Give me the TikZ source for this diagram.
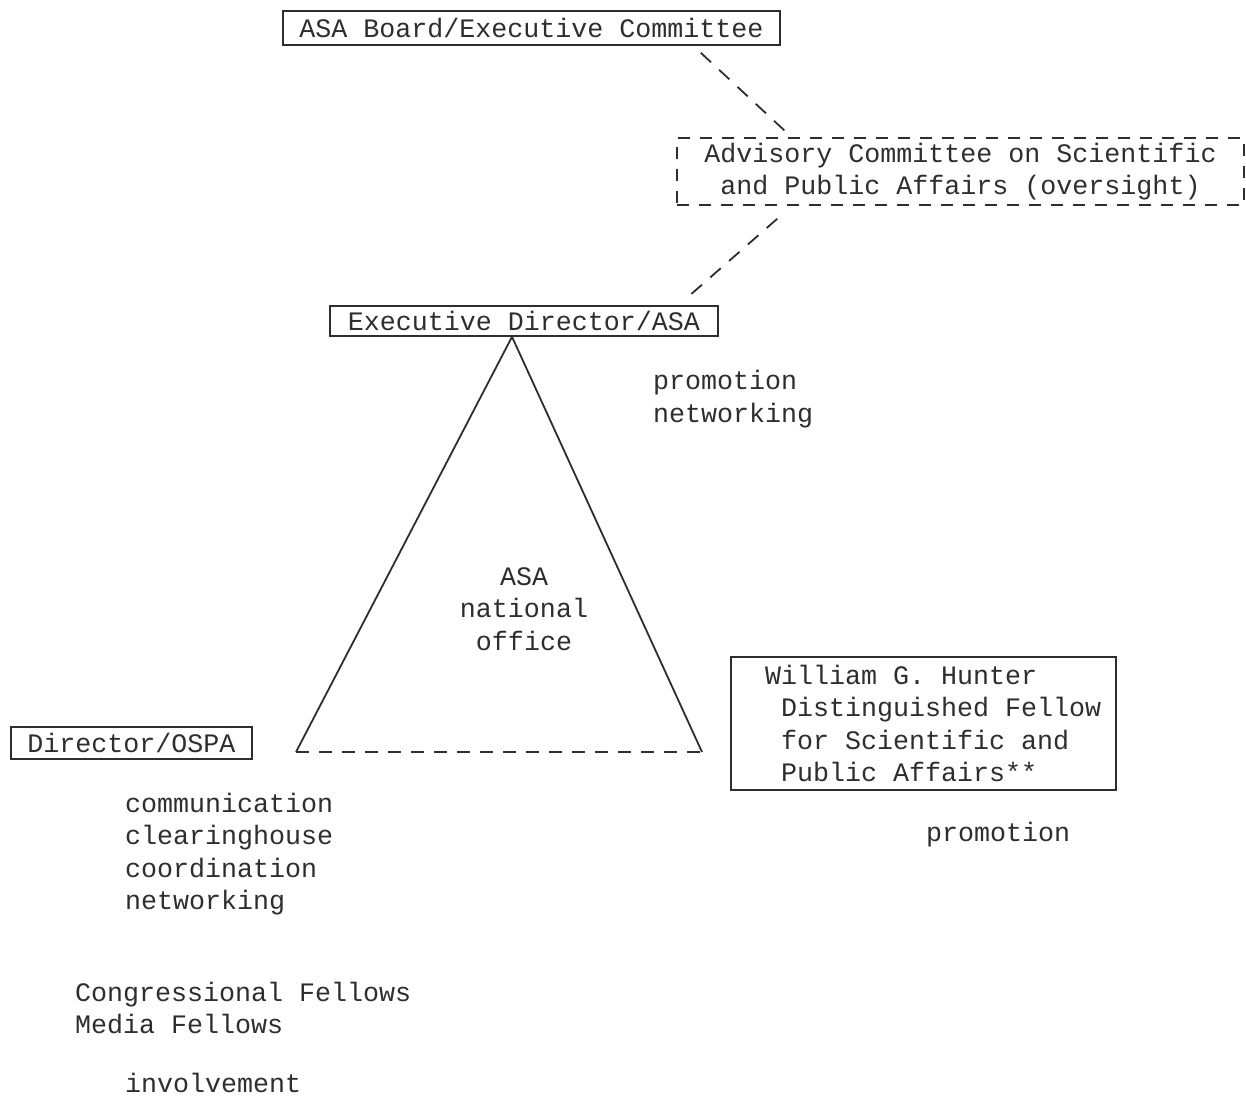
\documentclass[tikz,border=0pt]{standalone}
\usepackage{fontspec}
\setmainfont{Liberation Mono}[WordSpace={1,0,0}]
\usetikzlibrary{positioning}

\definecolor{ink}{gray}{0.18}
\newcommand{\typed}{\fontsize{26.67}{32.5}\selectfont}

\begin{document}
\begin{tikzpicture}[
    x=1pt, y=-1pt,
    unit/.style={draw=ink, line width=1.6pt, inner sep=0pt, font=\typed, text=ink},
    note/.style={inner sep=0pt, font=\typed, text=ink, align=left, anchor=west},
    edge/.style={draw=ink, line width=1.8pt},
    dashline/.style={edge, dash pattern=on 14pt off 11pt}
]

\useasboundingbox (0,0) rectangle (1246,1097);

\node[unit, minimum width=497pt, minimum height=34pt] (Board) at (531.5,28) {ASA Board/Executive Committee};

\node[unit, dash pattern=on 12pt off 10pt, minimum width=567pt, minimum height=67pt, align=center] (Adv) at (960.5,171.5) {
    Advisory Committee on Scientific \\
    and Public Affairs (oversight)
};

\node[unit, minimum width=388pt, minimum height=30pt] (Exec) at (524,321) {Executive Director/ASA};

\node[unit, minimum width=241pt, minimum height=32pt] (Ospa) at (131.5,743) {Director/OSPA};

\node[unit, text width=362pt, inner xsep=11.5pt, minimum height=133pt, align=left] (Hunter) at (923.5,723.5) {
    \spaceskip=0pt\relax
    \hspace*{22.5pt}William G. Hunter \\
    \hspace*{38.5pt}Distinguished Fellow \\
    \hspace*{38.5pt}for Scientific and \\
    \hspace*{38.5pt}Public Affairs**
};

\coordinate (Apex) at ([xshift=-12pt]Exec.south);
\coordinate (BaseL) at (296,752);
\coordinate (BaseR) at (702,752);

\draw[edge] (BaseL) -- (Apex) -- (BaseR);
\draw[dashline, dash pattern=on 13pt off 10pt] (BaseL) -- (BaseR);

\draw[dashline] ([xshift=-80pt, yshift=-7pt]Board.south east) -- ([xshift=109pt, yshift=6pt]Adv.north west);
\draw[dashline] ([xshift=101pt, yshift=-13pt]Adv.south west) -- ([xshift=-30pt, yshift=9pt]Exec.north east);

\node[note, align=center, anchor=center] (Office) at (524,609) {ASA\\national\\office};

\node[note] (ExecRole) at (653,399) {promotion\\networking};

\node[note] (HunterRole) at (926,835) {promotion};

\node[note] (OspaRole) at (125,854) {
    communication\\
    clearinghouse\\
    coordination\\
    networking
};

\node[note] (Fellows) at (75,1008) {Congressional Fellows\\Media Fellows};

\node[note] (FellowRole) at (125,1083) {involvement};

\end{tikzpicture}
\end{document}
